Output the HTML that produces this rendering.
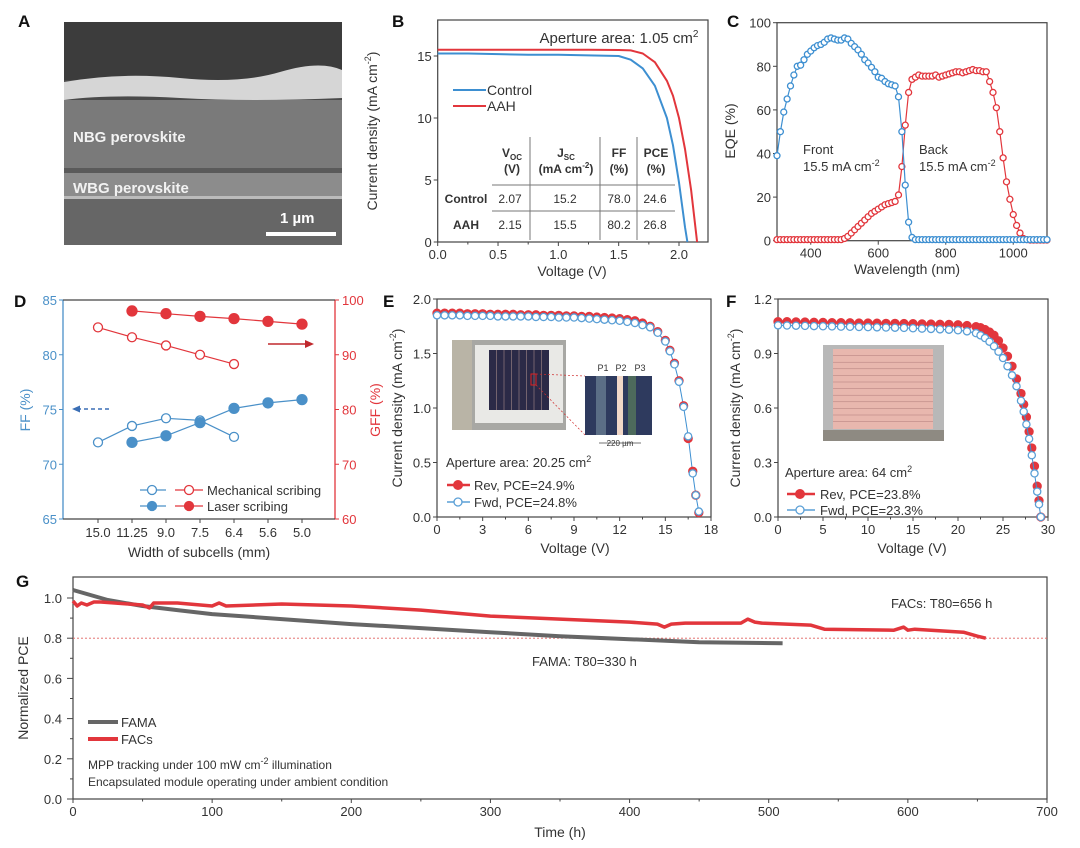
<!DOCTYPE html>
<html><head><meta charset="utf-8">
<style>
html,body{margin:0;padding:0;background:#fff;}
svg{display:block;font-family:"Liberation Sans",sans-serif;}
text{fill:#333;}
.lbl{font-weight:bold;font-size:17px;fill:#111;}
</style></head>
<body>
<svg id="fig" width="1080" height="848" viewBox="0 0 1080 848" xmlns="http://www.w3.org/2000/svg">
 <!-- Panel A: SEM image -->
 <g>
  <text class="lbl" x="18" y="27">A</text>
  <rect x="64" y="22" width="278" height="223" fill="#4a4a4a"/>
  <rect x="64" y="22" width="278" height="58" fill="#3c3c3c"/>
  <path d="M64,82 Q120,72 180,78 T280,72 T342,70 L342,98 Q250,102 180,98 T64,100 Z" fill="#d6d6d6"/>
  <rect x="64" y="100" width="278" height="68" fill="#7a7a7a"/>
  <rect x="64" y="168" width="278" height="5" fill="#5a5a5a"/>
  <rect x="64" y="173" width="278" height="25" fill="#8c8c8c"/>
  <rect x="64" y="196" width="278" height="3" fill="#bbb"/>
  <rect x="64" y="199" width="278" height="46" fill="#666"/>
  <text x="73" y="142" font-size="15" font-weight="bold" style="fill:#f2f2f2">NBG perovskite</text>
  <text x="73" y="193" font-size="15" font-weight="bold" style="fill:#f2f2f2">WBG perovskite</text>
  <text x="280" y="223" font-size="15" font-weight="bold" style="fill:#fff">1 µm</text>
  <rect x="266" y="232" width="70" height="4" fill="#fff"/>
 </g>
 <g id="plots"></g>
</svg>
<script>
// ---------- DATA ----------
// Panel B
const bCtrlV = [0,0.25,0.5,0.75,1.0,1.25,1.5,1.6,1.7,1.8,1.9,1.95,2.0,2.05,2.07];
const bCtrlJ = [15.2,15.2,15.15,15.1,15.1,15.05,15.0,14.7,14.0,12.6,10.0,7.8,4.8,1.2,0];
const bAahV = [0,0.25,0.5,0.75,1.0,1.25,1.5,1.6,1.7,1.8,1.9,1.95,2.0,2.05,2.1,2.15];
const bAahJ = [15.5,15.5,15.5,15.5,15.5,15.5,15.48,15.45,15.2,14.5,13.0,11.8,10.0,7.5,4.2,0];
const bXTicks = [0,0.5,1.0,1.5,2.0];
const bYTicks = [0,5,10,15];
// Panel C
const cWl = [300,310,320,330,340,350,360,370,380,390,400,410,420,430,440,450,460,470,480,490,500,510,520,530,540,550,560,570,580,590,600,610,620,630,640,650,660,670,680,690,700,710,720,730,740,750,760,770,780,790,800,810,820,830,840,850,860,870,880,890,900,910,920,930,940,950,960,970,980,990,1000,1010,1020,1030,1040,1050,1060,1070,1080,1090,1100];
const cFront = [39,50,59,65,71,76,80,80.5,83,85.5,87,88.5,89.5,90,91,92.5,93,92.5,92,92,93,92.5,90.5,89,87.5,85.5,83,81.5,79.5,77.5,75,74.5,73,72,71.5,71,66,50,25.5,8.5,1.5,0.5,0.5,0.5,0.5,0.5,0.5,0.5,0.5,0.5,0.5,0.5,0.5,0.5,0.5,0.5,0.5,0.5,0.5,0.5,0.5,0.5,0.5,0.5,0.5,0.5,0.5,0.5,0.5,0.5,0.5,0.5,0.5,0.5,0.5,0.5,0.5,0.5,0.5,0.5,0.5];
const cBack = [0.5,0.5,0.5,0.5,0.5,0.5,0.5,0.5,0.5,0.5,0.5,0.5,0.5,0.5,0.5,0.5,0.5,0.5,0.5,0.5,1,2,3.5,5,6.5,8,9.5,11,12.5,13.5,14.5,15.5,16.5,17,17.5,18,21,34,53,68,74,75,76,75.5,75.5,75.5,75.5,76,75,75.5,76,76.5,77,77.5,77.5,77,77.5,78,78.5,78,78,77.5,77.5,73,68,61,50,38,27,19,12,7,3.5,1,0.5,0.3,0.3,0.3,0.3,0.3,0.3];
const cXTicks = [400,600,800,1000];
const cYTicks = [0,20,40,60,80,100];
// Panel D
const dCats = ["15.0","11.25","9.0","7.5","6.4","5.6","5.0"];
const dMechFF = [72.0,73.5,74.2,74.0,72.5];
const dLaserFF = [null,72.0,72.6,73.8,75.1,75.6,75.9];
const dMechGFF = [95.0,93.2,91.7,90.0,88.3];
const dLaserGFF = [null,98.0,97.5,97.0,96.6,96.1,95.6];
const dLeftTicks = [65,70,75,80,85];
const dRightTicks = [60,70,80,90,100];
// Panel E
const eV = [0,0.5,1,1.5,2,2.5,3,3.5,4,4.5,5,5.5,6,6.5,7,7.5,8,8.5,9,9.5,10,10.5,11,11.5,12,12.5,13,13.5,14,14.5,15,15.3,15.6,15.9,16.2,16.5,16.8,17.0,17.2];
const eRev = [1.87,1.87,1.87,1.87,1.865,1.865,1.865,1.86,1.86,1.86,1.86,1.855,1.855,1.855,1.85,1.85,1.85,1.845,1.845,1.84,1.84,1.835,1.83,1.825,1.82,1.81,1.8,1.78,1.75,1.7,1.62,1.53,1.41,1.25,1.02,0.72,0.42,0.2,0.04];
const eFwd = [1.85,1.85,1.85,1.85,1.845,1.845,1.845,1.845,1.84,1.84,1.84,1.84,1.84,1.835,1.835,1.835,1.83,1.83,1.83,1.825,1.82,1.815,1.81,1.805,1.8,1.79,1.78,1.76,1.74,1.69,1.61,1.52,1.4,1.24,1.01,0.74,0.4,0.2,0.05];
const eXTicks = [0,3,6,9,12,15,18];
const eYTicks = [0,0.5,1.0,1.5,2.0];
// Panel F
const fV = [0,1,2,3,4,5,6,7,8,9,10,11,12,13,14,15,16,17,18,19,20,21,22,22.5,23,23.5,24,24.5,25,25.5,26,26.5,27,27.3,27.6,27.9,28.2,28.5,28.8,29.0,29.2];
const fRev = [1.075,1.075,1.074,1.073,1.072,1.071,1.07,1.07,1.069,1.068,1.068,1.067,1.066,1.066,1.065,1.064,1.063,1.062,1.061,1.06,1.058,1.054,1.048,1.042,1.032,1.018,1.0,0.97,0.93,0.885,0.83,0.76,0.68,0.62,0.55,0.47,0.38,0.28,0.17,0.09,0.0];
const fFwd = [1.055,1.054,1.053,1.052,1.051,1.05,1.049,1.048,1.047,1.046,1.045,1.044,1.043,1.042,1.041,1.039,1.037,1.035,1.033,1.031,1.028,1.022,1.012,1.0,0.985,0.965,0.94,0.91,0.875,0.83,0.78,0.72,0.64,0.58,0.51,0.43,0.34,0.24,0.14,0.07,0.0];
const fXTicks = [0,5,10,15,20,25,30];
const fYTicks = [0,0.3,0.6,0.9,1.2];
// Panel G
const gFamaT = [0,10,25,50,75,100,150,200,250,300,350,400,450,510];
const gFama = [1.04,1.02,0.99,0.96,0.94,0.92,0.895,0.87,0.85,0.83,0.81,0.795,0.78,0.775];
const gFacsT = [0,3,6,10,15,20,30,40,50,55,58,60,75,100,105,110,150,200,250,300,350,400,420,425,430,440,480,485,490,495,530,540,590,597,600,605,640,650,656];
const gFacs = [0.985,0.96,0.975,0.965,0.98,0.98,0.975,0.97,0.965,0.95,0.975,0.975,0.975,0.96,0.975,0.96,0.97,0.96,0.94,0.91,0.895,0.88,0.87,0.855,0.87,0.875,0.875,0.895,0.88,0.875,0.865,0.845,0.84,0.855,0.84,0.845,0.83,0.81,0.80];
const gXTicks = [0,100,200,300,400,500,600,700];
const gYTicks = [0,0.2,0.4,0.6,0.8,1.0];

// ---------- HELPERS ----------
const NS = "http://www.w3.org/2000/svg";
const root = document.getElementById("plots");
function el(tag, attrs, parent, txt){
  const e = document.createElementNS(NS, tag);
  for (const k in attrs) e.setAttribute(k, attrs[k]);
  if (txt !== undefined) e.textContent = txt;
  (parent || root).appendChild(e);
  return e;
}
function lin(d0,d1,r0,r1){ return v => r0 + (v-d0)*(r1-r0)/(d1-d0); }
function fmt(v,dec){ return v.toFixed(dec); }
function axesFrame(g,x0,y0,x1,y1,color){
  const r = el("rect",{x:x0,y:y0,width:x1-x0,height:y1-y0,fill:"none",stroke:color||"#444","stroke-width":1.2},g);
  
  
}
function xTicks(g,ticks,sx,yb,dec,minor){
  ticks.forEach((t,i)=>{
    const l = el("line",{x1:sx(t),x2:sx(t),y1:yb,y2:yb+4,stroke:"#444","stroke-width":1},g);
    
    
    const tx = el("text",{x:sx(t),y:yb+17,"text-anchor":"middle","font-size":13},g,fmt(t,dec));
    
    
    if (minor && i<ticks.length-1){
      const m=(t+ticks[i+1])/2;
      const ml = el("line",{x1:sx(m),x2:sx(m),y1:yb,y2:yb+2.5,stroke:"#444","stroke-width":1},g);
      
      
    }
  });
}
function yTicks(g,ticks,sy,xl,dec,color,right){
  ticks.forEach((t)=>{
    const d = right ? 4 : -4;
    const l = el("line",{x1:xl,x2:xl+d,y1:sy(t),y2:sy(t),stroke:color||"#444","stroke-width":1},g);
    
    
    const tx = el("text",{x:right?xl+7:xl-6,y:sy(t)+5,"text-anchor":right?"start":"end","font-size":13,style:"fill:"+(color||"#333")},g,fmt(t,dec));
    
    
  });
}
function label(g,txt,x,y,name){
  const t = el("text",{x:x,y:y,"class":"lbl"},g,txt);
  
  
}
function rotTitle(g,html,x,y,name,color){
  const t = el("text",{x:0,y:0,"text-anchor":"middle","font-size":14,transform:`translate(${x},${y}) rotate(-90)`,style:"fill:"+(color||"#333")},g);
  t.innerHTML = html;
  
  
}
function title(g,html,x,y,name,anchor,size){
  const t = el("text",{x:x,y:y,"text-anchor":anchor||"middle","font-size":size||14},g);
  t.innerHTML = html;
  
  
  return t;
}
function polyline(g,xs,ys,sx,sy,color,w,name){
  const pts=[];
  xs.forEach((x,i)=>{ if (ys[i]!==null && ys[i]!==undefined) pts.push(sx(x).toFixed(1)+","+sy(ys[i]).toFixed(1)); });
  const p = el("polyline",{points:pts.join(" "),fill:"none",stroke:color,"stroke-width":w,"stroke-linejoin":"round"},g);
  
  
}
function markers(g,xs,ys,sx,sy,color,r,filled,name){
  xs.forEach((x,i)=>{
    if (ys[i]===null || ys[i]===undefined) return;
    const c = el("circle",{cx:sx(x),cy:sy(ys[i]),r:r,fill:filled?color:"#fff",stroke:color,"stroke-width":1.3},g);
    
    
  });
}
const BLUE="#3d8fd1", RED="#e2363c", DBLUE="#4a90c8";
const SUP = '<tspan dy="-6" font-size="9">-2</tspan><tspan dy="6">)</tspan>';

// ---------- PANEL B ----------
(function(){
  const g = el("g",{});  
  const sx = lin(0,2,437.7,679), sy = lin(0,15,242,56);
  label(g,"B",392,27,"panel-label-b");
  axesFrame(g,437.7,20,708,242);
  xTicks(g,bXTicks,sx,242,1,true);
  yTicks(g,bYTicks,sy,437.7,0);
  title(g,"Voltage (V)",572,276,"x-axis-title-b");
  rotTitle(g,"Current density (mA cm"+SUP,377,131,"y-axis-title-b");
  title(g,'Aperture area: 1.05 cm<tspan dy="-6" font-size="10">2</tspan>',619,43,"aperture-label-b","middle",15);
  polyline(g,bCtrlV,bCtrlJ,sx,sy,BLUE,2,"control-curve");
  polyline(g,bAahV,bAahJ,sx,sy,RED,2,"aah-curve");
  // legend
  let l=el("line",{x1:453,x2:486,y1:90,y2:90,stroke:BLUE,"stroke-width":2},g);  
  title(g,"Control",487,95,"legend-control","start",14);
  l=el("line",{x1:453,x2:486,y1:106,y2:106,stroke:RED,"stroke-width":2},g);  
  title(g,"AAH",487,111,"legend-aah","start",14);
  // table
  [[530,137,530,240],[600,137,600,240],[637,137,637,240]].forEach(a=>{const t=el("line",{x1:a[0],y1:a[1],x2:a[2],y2:a[3],stroke:"#777","stroke-width":1},g);});
  [185,211].forEach(y=>{const t=el("line",{x1:492,y1:y,x2:675,y2:y,stroke:"#777","stroke-width":1},g);});
  const hdr=[[512,'V<tspan font-size="8" dy="3">OC</tspan>','(V)'],[566,'J<tspan font-size="8" dy="3">SC</tspan>','(mA cm<tspan dy="-5" font-size="8">-2</tspan><tspan dy="5">)</tspan>'],[619,'FF','(%)'],[656,'PCE','(%)']];
  hdr.forEach(h=>{const a=title(g,h[1],h[0],157,"table-header","middle",12); a.setAttribute('font-weight','bold'); const b=title(g,h[2],h[0],173,"table-header-unit","middle",12); b.setAttribute('font-weight','bold');});
  let t=title(g,"Control",466,203,"table-row-control","middle",12); t.setAttribute('font-weight','bold');
  t=title(g,"AAH",466,229,"table-row-aah","middle",12); t.setAttribute('font-weight','bold');
  const cols=[510,565,619,655];
  ["2.07","15.2","78.0","24.6"].forEach((v,i)=>title(g,v,cols[i],203,"table-cell","middle",12));
  ["2.15","15.5","80.2","26.8"].forEach((v,i)=>title(g,v,cols[i],229,"table-cell","middle",12));
})();

// ---------- PANEL C ----------
(function(){
  const g = el("g",{});  
  const sx = lin(300,1100,777,1047), sy = lin(0,100,240.7,22.7);
  label(g,"C",727,27,"panel-label-c");
  axesFrame(g,777,22.7,1047,240.7);
  xTicks(g,cXTicks,sx,240.7,0,false);
  yTicks(g,cYTicks,sy,777,0);
  title(g,"Wavelength (nm)",907,274,"x-axis-title-c");
  rotTitle(g,"EQE (%)",735,131,"y-axis-title-c");
  polyline(g,cWl,cBack,sx,sy,RED,1.2,"back-eqe-line");
  markers(g,cWl,cBack,sx,sy,RED,3,false,"back-eqe-point");
  polyline(g,cWl,cFront,sx,sy,BLUE,1.2,"front-eqe-line");
  markers(g,cWl,cFront,sx,sy,BLUE,3,false,"front-eqe-point");
  title(g,"Front",803,154,"front-label","start",13);
  title(g,'15.5 mA cm<tspan dy="-5" font-size="9">-2</tspan>',803,171,"front-jsc","start",13);
  title(g,"Back",919,154,"back-label","start",13);
  title(g,'15.5 mA cm<tspan dy="-5" font-size="9">-2</tspan>',919,171,"back-jsc","start",13);
})();

// ---------- PANEL D ----------
(function(){
  const g = el("g",{});  
  const sx = i => 98 + i*34, syL = lin(65,85,519,300), syR = lin(60,100,519,300);
  label(g,"D",14,307,"panel-label-d");
  let ln=el("line",{x1:63,y1:300,x2:63,y2:519,stroke:DBLUE,"stroke-width":1.3},g);  
  ln=el("line",{x1:335,y1:300,x2:335,y2:519,stroke:RED,"stroke-width":1.3},g);  
  ln=el("line",{x1:63,y1:519,x2:335,y2:519,stroke:"#444","stroke-width":1.3},g);  
  ln=el("line",{x1:63,y1:300,x2:335,y2:300,stroke:"#444","stroke-width":1.3},g);  
  yTicks(g,dLeftTicks,syL,63,0,DBLUE,false);
  yTicks(g,dRightTicks,syR,335,0,RED,true);
  dCats.forEach((c,i)=>{
    const tk=el("line",{x1:sx(i),x2:sx(i),y1:519,y2:523,stroke:"#444"},g);  
    title(g,c,sx(i),537,"x-tick-label","middle",13);
  });
  title(g,"Width of subcells (mm)",199,557,"x-axis-title-d");
  rotTitle(g,"FF (%)",30,410,"y-axis-title-left-d",DBLUE);
  rotTitle(g,"GFF (%)",380,410,"y-axis-title-right-d",RED);
  const idx = a => a.map((_,i)=>i);
  polyline(g,idx(dMechGFF),dMechGFF,sx,syR,RED,1.2,"mech-gff-line");
  markers(g,idx(dMechGFF),dMechGFF,sx,syR,RED,4.5,false,"mech-gff-point");
  polyline(g,idx(dLaserGFF),dLaserGFF,sx,syR,RED,1.2,"laser-gff-line");
  markers(g,idx(dLaserGFF),dLaserGFF,sx,syR,RED,5,true,"laser-gff-point");
  polyline(g,idx(dMechFF),dMechFF,sx,syL,DBLUE,1.2,"mech-ff-line");
  markers(g,idx(dMechFF),dMechFF,sx,syL,DBLUE,4.5,false,"mech-ff-point");
  polyline(g,idx(dLaserFF),dLaserFF,sx,syL,DBLUE,1.2,"laser-ff-line");
  markers(g,idx(dLaserFF),dLaserFF,sx,syL,DBLUE,5,true,"laser-ff-point");
  // arrows
  ln=el("line",{x1:109,y1:409,x2:78,y2:409,stroke:"#3b6fb5","stroke-width":1.5,"stroke-dasharray":"4,3"},g);  
  let p=el("polygon",{points:"72,409 80,405.5 80,412.5",fill:"#3b6fb5"},g);  
  ln=el("line",{x1:268,y1:344,x2:306,y2:344,stroke:"#c0282d","stroke-width":1.5},g);  
  p=el("polygon",{points:"314,344 305,340 305,348",fill:"#c0282d"},g);  
  // legend
  [[490,false],[506,true]].forEach((r,k)=>{
    let a=el("line",{x1:140,x2:166,y1:r[0],y2:r[0],stroke:DBLUE,"stroke-width":1.2},g);  
    a=el("circle",{cx:152,cy:r[0],r:4.5,fill:r[1]?DBLUE:"#fff",stroke:DBLUE,"stroke-width":1.3},g);  
    a=el("line",{x1:175,x2:203,y1:r[0],y2:r[0],stroke:RED,"stroke-width":1.2},g);  
    a=el("circle",{cx:189,cy:r[0],r:4.5,fill:r[1]?RED:"#fff",stroke:RED,"stroke-width":1.3},g);  
  });
  title(g,"Mechanical scribing",207,495,"legend-mechanical","start",13);
  title(g,"Laser scribing",207,511,"legend-laser","start",13);
})();

// ---------- PANEL E ----------
(function(){
  const g = el("g",{});  
  const sx = lin(0,18,437,711), sy = lin(0,2,517,299);
  label(g,"E",383,307,"panel-label-e");
  axesFrame(g,437,299,711,517);
  xTicks(g,eXTicks,sx,517,0,true);
  yTicks(g,eYTicks,sy,437,1);
  title(g,"Voltage (V)",575,553,"x-axis-title-e");
  rotTitle(g,"Current density (mA cm"+SUP,402,408,"y-axis-title-e");
  // photo insets
  let r=el("rect",{x:452,y:340,width:114,height:90,fill:"#a8a8a4"},g);  
  r=el("rect",{x:452,y:340,width:20,height:90,fill:"#b9b4a6"},g);  
  r=el("rect",{x:475,y:345,width:88,height:78,fill:"#e9e9e6"},g);  
  r=el("rect",{x:489,y:350,width:60,height:60,fill:"#2b2a47"},g);  
  for(let i=1;i<8;i++){ const s=el("line",{x1:489+i*7.5,x2:489+i*7.5,y1:350,y2:410,stroke:"#a48a8a","stroke-width":0.6},g);   }
  r=el("rect",{x:531,y:374,width:5,height:11,fill:"none",stroke:"#e02020","stroke-width":1},g);  
  let d=el("line",{x1:536,y1:374,x2:585,y2:376,stroke:"#d03030","stroke-width":0.7,"stroke-dasharray":"2,2"},g);  
  d=el("line",{x1:536,y1:385,x2:585,y2:435,stroke:"#d03030","stroke-width":0.7,"stroke-dasharray":"2,2"},g);  
  r=el("rect",{x:585,y:376,width:67,height:59,fill:"#2e3a5e"},g);  
  r=el("rect",{x:596,y:376,width:10,height:59,fill:"#5b6e86"},g);  
  r=el("rect",{x:617,y:376,width:6,height:59,fill:"#f2d8c8"},g);  
  r=el("rect",{x:628,y:376,width:8,height:59,fill:"#4d6a5c"},g);  
  title(g,"P1",603,371,"p1-label","middle",9); title(g,"P2",621,371,"p2-label","middle",9); title(g,"P3",640,371,"p3-label","middle",9);
  d=el("line",{x1:599,y1:443,x2:641,y2:443,stroke:"#444","stroke-width":0.7},g);  
  title(g,"220 µm",620,446,"dimension-label","middle",8);
  polyline(g,eV,eFwd,sx,sy,BLUE,1,"fwd-line");
  markers(g,eV,eRev,sx,sy,RED,4,true,"rev-point");
  markers(g,eV,eFwd,sx,sy,"#5a9fd6",3.6,false,"fwd-point");
  title(g,'Aperture area: 20.25 cm<tspan dy="-5" font-size="9">2</tspan>',446,467,"aperture-label-e","start",13);
  let a=el("line",{x1:447,x2:470,y1:485,y2:485,stroke:RED,"stroke-width":2.5},g);  
  a=el("circle",{cx:458,cy:485,r:5,fill:RED},g);  
  title(g,"Rev, PCE=24.9%",474,490,"legend-rev","start",13);
  a=el("line",{x1:447,x2:470,y1:502,y2:502,stroke:"#5a9fd6","stroke-width":1.5},g);  
  a=el("circle",{cx:458,cy:502,r:4,fill:"#fff",stroke:"#5a9fd6","stroke-width":1.3},g);  
  title(g,"Fwd, PCE=24.8%",474,507,"legend-fwd","start",13);
})();

// ---------- PANEL F ----------
(function(){
  const g = el("g",{});  
  const sx = lin(0,30,778,1048), sy = lin(0,1.2,517,299);
  label(g,"F",726,307,"panel-label-f");
  axesFrame(g,778,299,1048,517);
  xTicks(g,fXTicks,sx,517,0,true);
  yTicks(g,fYTicks,sy,778,1);
  title(g,"Voltage (V)",912,553,"x-axis-title-f");
  rotTitle(g,"Current density (mA cm"+SUP,740,408,"y-axis-title-f");
  let r=el("rect",{x:823,y:345,width:121,height:96,fill:"#b8b8b8"},g);  
  r=el("rect",{x:833,y:349,width:100,height:80,fill:"#e8b7ae"},g);  
  for(let i=1;i<12;i++){ const s=el("line",{x1:833,x2:933,y1:349+i*6.6,y2:349+i*6.6,stroke:"#b07c7a","stroke-width":0.5},g);   }
  r=el("rect",{x:823,y:430,width:121,height:11,fill:"#8e8a82"},g);  
  markers(g,fV,fRev,sx,sy,RED,4,true,"rev-point-f");
  polyline(g,fV,fFwd,sx,sy,BLUE,1,"fwd-line-f");
  markers(g,fV,fFwd,sx,sy,"#5a9fd6",3.6,false,"fwd-point-f");
  title(g,'Aperture area: 64 cm<tspan dy="-5" font-size="9">2</tspan>',785,477,"aperture-label-f","start",13);
  let a=el("line",{x1:787,x2:815,y1:494,y2:494,stroke:RED,"stroke-width":2.5},g);  
  a=el("circle",{cx:800,cy:494,r:5,fill:RED},g);  
  title(g,"Rev, PCE=23.8%",820,499,"legend-rev-f","start",13);
  a=el("line",{x1:787,x2:815,y1:510,y2:510,stroke:"#5a9fd6","stroke-width":1.5},g);  
  a=el("circle",{cx:800,cy:510,r:4,fill:"#fff",stroke:"#5a9fd6","stroke-width":1.3},g);  
  title(g,"Fwd, PCE=23.3%",820,515,"legend-fwd-f","start",13);
})();

// ---------- PANEL G ----------
(function(){
  const g = el("g",{});  
  const sx = lin(0,700,73,1047), sy = lin(0,1,799,598);
  label(g,"G",16,587,"panel-label-g");
  axesFrame(g,73,577,1047,799);
  xTicks(g,gXTicks,sx,799,0,true);
  gYTicks.forEach((t,i)=>{
    const l=el("line",{x1:73,x2:67,y1:sy(t),y2:sy(t),stroke:"#444"},g);  
    title(g,fmt(t,1),62,sy(t)+5,"y-tick-label","end",13);
    if(i<gYTicks.length-1){ const m=el("line",{x1:73,x2:70,y1:sy(t+0.1),y2:sy(t+0.1),stroke:"#444"},g);   }
  });
  title(g,"Time (h)",560,837,"x-axis-title-g");
  rotTitle(g,"Normalized PCE",28,688,"y-axis-title-g");
  const ref=el("line",{x1:73,x2:1047,y1:sy(0.8),y2:sy(0.8),stroke:"#e0605f","stroke-width":0.8,"stroke-dasharray":"2,2"},g);
   
  polyline(g,gFamaT,gFama,sx,sy,"#666",4,"fama-line");
  polyline(g,gFacsT,gFacs,sx,sy,RED,3.5,"facs-line");
  title(g,"FACs: T80=656 h",891,608,"facs-t80-label","start",13);
  title(g,"FAMA: T80=330 h",532,666,"fama-t80-label","start",13);
  let a=el("line",{x1:88,x2:118,y1:722,y2:722,stroke:"#666","stroke-width":4},g);  
  title(g,"FAMA",121,727,"legend-fama","start",13);
  a=el("line",{x1:88,x2:118,y1:739,y2:739,stroke:RED,"stroke-width":4},g);  
  title(g,"FACs",121,744,"legend-facs","start",13);
  title(g,'MPP tracking under 100 mW cm<tspan dy="-5" font-size="9">-2</tspan><tspan dy="5"> illumination</tspan>',88,769,"condition-text-1","start",12);
  title(g,"Encapsulated module operating under ambient condition",88,786,"condition-text-2","start",12);
})();
</script>
</body></html>
